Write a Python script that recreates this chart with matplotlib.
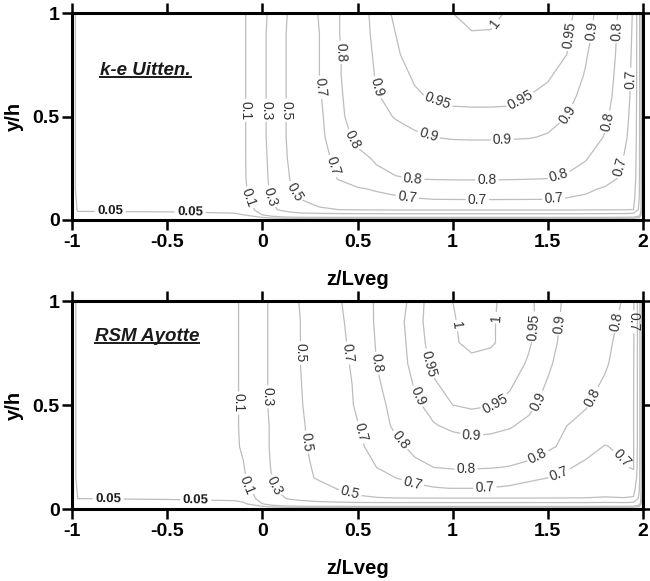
import matplotlib
matplotlib.use('Agg')
import matplotlib.pyplot as plt
from matplotlib.lines import Line2D
import numpy as np

plt.rcParams['font.family'] = ['Liberation Sans', 'DejaVu Sans']
plt.rcParams['axes.unicode_minus'] = False

# grid of the velocity field (z/Lveg across, y/h up)
z_nodes = [-1.0, -0.99, -0.97, -0.5, -0.15, -0.1, -0.05, 0.0, 0.05, 0.1, 0.15, 0.2,
           0.3, 0.4, 0.5, 0.6, 0.7, 0.8, 0.9, 1.0, 1.1, 1.2, 1.3, 1.4, 1.5, 1.6,
           1.7, 1.8, 1.9, 1.95, 1.98, 1.99, 2.0]
y_nodes = [0.0, 0.01, 0.025, 0.05, 0.1, 0.15, 0.2, 0.3, 0.4, 0.5, 0.6, 0.7, 0.8, 0.9, 1.0]

u_keps = [
    [0, 0, 0, 0, 0, 0, 0, 0, 0, 0, 0, 0, 0, 0, 0, 0, 0, 0, 0, 0, 0, 0, 0, 0, 0, 0, 0, 0, 0, 0, 0, 0, 0],
    [0, 0.01, 0.02, 0.02, 0.022, 0.025, 0.03, 0.04, 0.05, 0.06, 0.065, 0.07, 0.07, 0.07, 0.07, 0.07, 0.07,
     0.07, 0.07, 0.07, 0.07, 0.07, 0.07, 0.07, 0.07, 0.07, 0.07, 0.07, 0.065, 0.06, 0.04, 0.02, 0],
    [0, 0.02, 0.04, 0.042, 0.045, 0.05, 0.065, 0.1, 0.14, 0.17, 0.2, 0.22, 0.23, 0.235, 0.24, 0.24, 0.24,
     0.24, 0.24, 0.24, 0.24, 0.24, 0.24, 0.24, 0.24, 0.24, 0.24, 0.235, 0.23, 0.22, 0.14, 0.05, 0],
    [0, 0.03, 0.055, 0.056, 0.06, 0.07, 0.09, 0.17, 0.26, 0.33, 0.39, 0.44, 0.48, 0.5, 0.51, 0.515, 0.52,
     0.52, 0.52, 0.52, 0.52, 0.52, 0.52, 0.52, 0.52, 0.52, 0.518, 0.512, 0.51, 0.5, 0.26, 0.09, 0],
    [0, 0.035, 0.06, 0.068, 0.075, 0.085, 0.11, 0.21, 0.31, 0.39, 0.45, 0.5, 0.56, 0.61, 0.645, 0.67, 0.685,
     0.695, 0.7, 0.703, 0.705, 0.705, 0.704, 0.702, 0.7, 0.695, 0.685, 0.665, 0.62, 0.55, 0.3, 0.1, 0],
    [0, 0.04, 0.065, 0.07, 0.078, 0.088, 0.12, 0.23, 0.33, 0.41, 0.49, 0.55, 0.61, 0.66, 0.69, 0.71, 0.725,
     0.735, 0.742, 0.745, 0.747, 0.747, 0.746, 0.744, 0.74, 0.73, 0.715, 0.69, 0.645, 0.58, 0.32, 0.1, 0],
    [0, 0.04, 0.065, 0.07, 0.08, 0.09, 0.125, 0.24, 0.34, 0.43, 0.51, 0.57, 0.64, 0.705, 0.75, 0.78, 0.795,
     0.802, 0.806, 0.808, 0.808, 0.808, 0.806, 0.804, 0.8, 0.79, 0.77, 0.735, 0.68, 0.61, 0.33, 0.1, 0],
    [0, 0.04, 0.065, 0.07, 0.08, 0.09, 0.13, 0.25, 0.35, 0.45, 0.53, 0.59, 0.66, 0.73, 0.78, 0.81, 0.83,
     0.845, 0.855, 0.86, 0.862, 0.862, 0.86, 0.855, 0.845, 0.83, 0.805, 0.76, 0.695, 0.63, 0.34, 0.1, 0],
    [0, 0.04, 0.065, 0.07, 0.08, 0.09, 0.13, 0.26, 0.36, 0.46, 0.54, 0.6, 0.675, 0.76, 0.82, 0.85, 0.87,
     0.89, 0.9, 0.905, 0.906, 0.906, 0.905, 0.903, 0.895, 0.875, 0.845, 0.795, 0.725, 0.65, 0.35, 0.1, 0],
    [0, 0.04, 0.065, 0.07, 0.08, 0.09, 0.13, 0.26, 0.36, 0.46, 0.54, 0.6, 0.68, 0.78, 0.84, 0.875, 0.905,
     0.92, 0.93, 0.94, 0.94, 0.94, 0.94, 0.935, 0.92, 0.9, 0.865, 0.815, 0.74, 0.66, 0.35, 0.1, 0],
    [0, 0.04, 0.065, 0.07, 0.08, 0.09, 0.13, 0.26, 0.36, 0.46, 0.54, 0.6, 0.69, 0.785, 0.85, 0.895, 0.925,
     0.945, 0.955, 0.96, 0.962, 0.962, 0.96, 0.95, 0.94, 0.92, 0.88, 0.83, 0.75, 0.67, 0.36, 0.1, 0],
    [0, 0.04, 0.065, 0.07, 0.08, 0.09, 0.13, 0.26, 0.36, 0.46, 0.54, 0.61, 0.7, 0.79, 0.86, 0.905, 0.935,
     0.955, 0.965, 0.97, 0.975, 0.975, 0.972, 0.965, 0.955, 0.935, 0.895, 0.84, 0.755, 0.675, 0.36, 0.1, 0],
    [0, 0.04, 0.065, 0.07, 0.08, 0.09, 0.13, 0.26, 0.36, 0.46, 0.54, 0.61, 0.7, 0.79, 0.865, 0.91, 0.945,
     0.965, 0.978, 0.985, 0.99, 0.99, 0.988, 0.98, 0.97, 0.95, 0.905, 0.85, 0.76, 0.68, 0.36, 0.1, 0],
    [0, 0.04, 0.065, 0.07, 0.08, 0.09, 0.13, 0.26, 0.36, 0.46, 0.54, 0.61, 0.7, 0.795, 0.87, 0.915, 0.95,
     0.972, 0.985, 0.993, 0.999, 0.999, 0.995, 0.987, 0.977, 0.955, 0.92, 0.855, 0.765, 0.685, 0.36, 0.1, 0],
    [0, 0.04, 0.065, 0.07, 0.08, 0.09, 0.13, 0.25, 0.35, 0.45, 0.53, 0.6, 0.71, 0.795, 0.87, 0.92, 0.96,
     0.975, 0.99, 1.0, 1.006, 1.004, 0.998, 0.99, 0.98, 0.96, 0.93, 0.86, 0.77, 0.69, 0.36, 0.1, 0],
]

# U/Umax
u_rsm = [
    [0, 0, 0, 0, 0, 0, 0, 0, 0, 0, 0, 0, 0, 0, 0, 0, 0, 0, 0, 0, 0, 0, 0, 0, 0, 0, 0, 0, 0, 0, 0, 0, 0],
    [0, 0.01, 0.02, 0.02, 0.022, 0.025, 0.03, 0.04, 0.05, 0.06, 0.065, 0.07, 0.07, 0.07, 0.07, 0.07, 0.07,
     0.07, 0.07, 0.07, 0.07, 0.07, 0.07, 0.07, 0.07, 0.07, 0.07, 0.07, 0.065, 0.06, 0.04, 0.02, 0],
    [0, 0.02, 0.035, 0.04, 0.042, 0.045, 0.06, 0.1, 0.14, 0.17, 0.19, 0.21, 0.225, 0.235, 0.24, 0.24, 0.24,
     0.24, 0.24, 0.24, 0.24, 0.24, 0.24, 0.24, 0.24, 0.24, 0.24, 0.235, 0.24, 0.23, 0.14, 0.05, 0],
    [0, 0.03, 0.05, 0.052, 0.055, 0.06, 0.08, 0.15, 0.22, 0.28, 0.32, 0.35, 0.4, 0.44, 0.47, 0.485, 0.49,
     0.49, 0.49, 0.49, 0.49, 0.49, 0.49, 0.49, 0.49, 0.49, 0.49, 0.48, 0.49, 0.48, 0.26, 0.08, 0],
    [0, 0.035, 0.055, 0.065, 0.075, 0.09, 0.115, 0.2, 0.28, 0.33, 0.37, 0.4, 0.45, 0.51, 0.56, 0.61, 0.65,
     0.68, 0.695, 0.702, 0.702, 0.698, 0.69, 0.675, 0.66, 0.64, 0.62, 0.6, 0.6, 0.58, 0.32, 0.1, 0],
    [0, 0.04, 0.06, 0.07, 0.082, 0.09, 0.125, 0.23, 0.3, 0.36, 0.41, 0.45, 0.52, 0.58, 0.63, 0.67, 0.7,
     0.725, 0.74, 0.745, 0.745, 0.74, 0.73, 0.715, 0.7, 0.68, 0.65, 0.63, 0.65, 0.66, 0.36, 0.11, 0],
    [0, 0.04, 0.06, 0.07, 0.085, 0.095, 0.14, 0.24, 0.31, 0.37, 0.42, 0.46, 0.53, 0.6, 0.65, 0.7, 0.745,
     0.78, 0.8, 0.81, 0.81, 0.805, 0.795, 0.775, 0.745, 0.71, 0.675, 0.655, 0.69, 0.71, 0.38, 0.11, 0],
    [0, 0.04, 0.06, 0.07, 0.085, 0.11, 0.165, 0.25, 0.32, 0.38, 0.43, 0.475, 0.55, 0.62, 0.68, 0.735, 0.78,
     0.82, 0.85, 0.87, 0.88, 0.878, 0.87, 0.85, 0.815, 0.78, 0.74, 0.695, 0.72, 0.71, 0.4, 0.12, 0],
    [0, 0.04, 0.06, 0.07, 0.085, 0.115, 0.165, 0.25, 0.32, 0.38, 0.435, 0.48, 0.56, 0.635, 0.695, 0.76, 0.815,
     0.865, 0.895, 0.912, 0.918, 0.914, 0.905, 0.885, 0.85, 0.8, 0.78, 0.755, 0.73, 0.705, 0.4, 0.12, 0],
    [0, 0.04, 0.06, 0.07, 0.085, 0.115, 0.17, 0.26, 0.33, 0.39, 0.44, 0.49, 0.57, 0.645, 0.715, 0.77, 0.83,
     0.885, 0.925, 0.95, 0.958, 0.952, 0.94, 0.915, 0.88, 0.85, 0.805, 0.77, 0.74, 0.705, 0.4, 0.12, 0],
    [0, 0.04, 0.06, 0.07, 0.085, 0.115, 0.17, 0.26, 0.33, 0.39, 0.445, 0.495, 0.575, 0.65, 0.72, 0.785, 0.85,
     0.905, 0.945, 0.965, 0.972, 0.968, 0.955, 0.93, 0.895, 0.86, 0.825, 0.79, 0.75, 0.71, 0.4, 0.12, 0],
    [0, 0.04, 0.06, 0.07, 0.085, 0.115, 0.17, 0.26, 0.33, 0.39, 0.445, 0.5, 0.58, 0.66, 0.73, 0.8, 0.865,
     0.92, 0.96, 0.98, 0.99, 0.985, 0.97, 0.945, 0.91, 0.87, 0.84, 0.81, 0.76, 0.715, 0.4, 0.12, 0],
    [0, 0.04, 0.06, 0.07, 0.085, 0.115, 0.17, 0.26, 0.33, 0.39, 0.445, 0.5, 0.58, 0.67, 0.74, 0.805, 0.87,
     0.925, 0.97, 0.995, 1.01, 1.005, 0.985, 0.955, 0.92, 0.88, 0.85, 0.82, 0.77, 0.72, 0.4, 0.12, 0],
    [0, 0.04, 0.06, 0.07, 0.085, 0.115, 0.17, 0.26, 0.33, 0.39, 0.445, 0.5, 0.58, 0.68, 0.745, 0.81, 0.875,
     0.93, 0.975, 0.995, 1.02, 1.005, 0.985, 0.96, 0.925, 0.885, 0.855, 0.825, 0.785, 0.72, 0.4, 0.12, 0],
    [0, 0.04, 0.06, 0.07, 0.085, 0.115, 0.17, 0.26, 0.33, 0.39, 0.45, 0.51, 0.59, 0.69, 0.75, 0.81, 0.87,
     0.92, 0.98, 1.0, 1.02, 1.005, 0.99, 0.96, 0.925, 0.89, 0.86, 0.83, 0.795, 0.72, 0.4, 0.12, 0],
]

levels = [0.05, 0.1, 0.3, 0.5, 0.7, 0.8, 0.9, 0.95, 1.0]
x_ticks = [-1, -0.5, 0, 0.5, 1, 1.5, 2]
x_tick_labels = ['-1', '-0.5', '0', '0.5', '1', '1.5', '2']
y_ticks = [0, 0.5, 1]
y_tick_labels = ['0', '0.5', '1']
panel_names = ['k-e Uitten.', 'RSM Ayotte']

# where the contour labels sit (z, y)
label_spots_keps = [(-0.8, 0.04), (-0.38, 0.04), (-0.08, 0.53), (-0.055, 0.11), (0.016, 0.53),
                    (0.03, 0.11), (0.12, 0.53), (0.16, 0.13), (0.295, 0.64), (0.37, 0.26),
                    (0.76, 0.1), (1.13, 0.1), (1.53, 0.1), (1.87, 0.26), (1.92, 0.68),
                    (0.41, 0.81), (0.48, 0.39), (0.79, 0.19), (1.18, 0.19), (1.56, 0.21),
                    (1.83, 0.47), (1.88, 0.91), (0.6, 0.64), (0.87, 0.4), (1.26, 0.39),
                    (1.6, 0.51), (1.74, 0.91), (0.92, 0.57), (1.36, 0.57), (1.62, 0.89),
                    (1.25, 0.93)]
label_spots_rsm = [(-0.81, 0.048), (-0.35, 0.048), (-0.125, 0.51), (-0.07, 0.115), (0.025, 0.54),
                   (0.07, 0.115), (0.18, 0.75), (0.21, 0.32), (0.46, 0.07), (0.45, 0.75),
                   (0.5, 0.365), (0.79, 0.125), (1.17, 0.095), (1.56, 0.17), (1.88, 0.235),
                   (1.945, 0.9), (0.59, 0.7), (0.71, 0.32), (1.07, 0.18), (1.45, 0.25),
                   (1.73, 0.54), (1.87, 0.9), (0.81, 0.54), (1.1, 0.34), (1.44, 0.52),
                   (1.57, 0.89), (0.88, 0.7), (1.21, 0.52), (1.43, 0.875), (1.0, 0.88),
                   (1.22, 0.92)]

fig = plt.figure(figsize=(6.5, 5.81), dpi=100)
ax_top = fig.add_axes([72 / 650, 1 - 220 / 581, 571 / 650, 207 / 581])
ax_bot = fig.add_axes([72 / 650, 1 - 509 / 581, 571 / 650, 208 / 581])

name_texts = []
for ax, field, spots, name, name_xy in [(ax_top, u_keps, label_spots_keps, panel_names[0], (-0.853, 0.72)),
                                        (ax_bot, u_rsm, label_spots_rsm, panel_names[1], (-0.879, 0.83))]:
    cs = ax.contour(z_nodes, y_nodes, np.array(field), levels=levels,
                    colors='#bdbdbd', linewidths=0.9)
    lbls = ax.clabel(cs, levels, inline=True, fmt=lambda v: f'{v:g}', fontsize=10,
                     colors='#333333', manual=spots, inline_spacing=2)
    for t in lbls:
        if t.get_text() == '0.05':
            t.set_fontweight('bold')
            t.set_fontsize(9.5)
            t.set_color('#1a1a1a')

    ax.set_xlim(-1, 2)
    ax.set_ylim(0, 1)
    ax.set_xticks(x_ticks, x_tick_labels, fontweight='bold', fontsize=14)
    ax.set_yticks(y_ticks, y_tick_labels, fontweight='bold', fontsize=14)
    ax.tick_params(direction='out', length=7, width=1.8, top=True, right=True, pad=2)
    ax.tick_params(axis='x', pad=3)
    for sp in ax.spines.values():
        sp.set_linewidth(2.2)
    ax.set_xlabel('z/Lveg', fontsize=14.5, fontweight='bold', labelpad=14)
    ax.set_ylabel('y/h', fontsize=14.5, fontweight='bold', labelpad=6)

    t = ax.text(name_xy[0], name_xy[1], name, fontsize=13.5, fontweight='bold',
                fontstyle='italic', ha='left', va='center', color='#1a1a1a')
    name_texts.append(t)

# underline the model names
fig.canvas.draw()
renderer = fig.canvas.get_renderer()
inv = fig.transFigure.inverted()
for t in name_texts:
    bb = t.get_window_extent(renderer)
    (x0, y0), (x1, y1) = inv.transform([[bb.x0, bb.y0 + 2], [bb.x1, bb.y1]])
    fig.add_artist(Line2D([x0, x1], [y0, y0], transform=fig.transFigure,
                          lw=1.4, color='#1a1a1a'))

fig.savefig('out.png', dpi=100)
